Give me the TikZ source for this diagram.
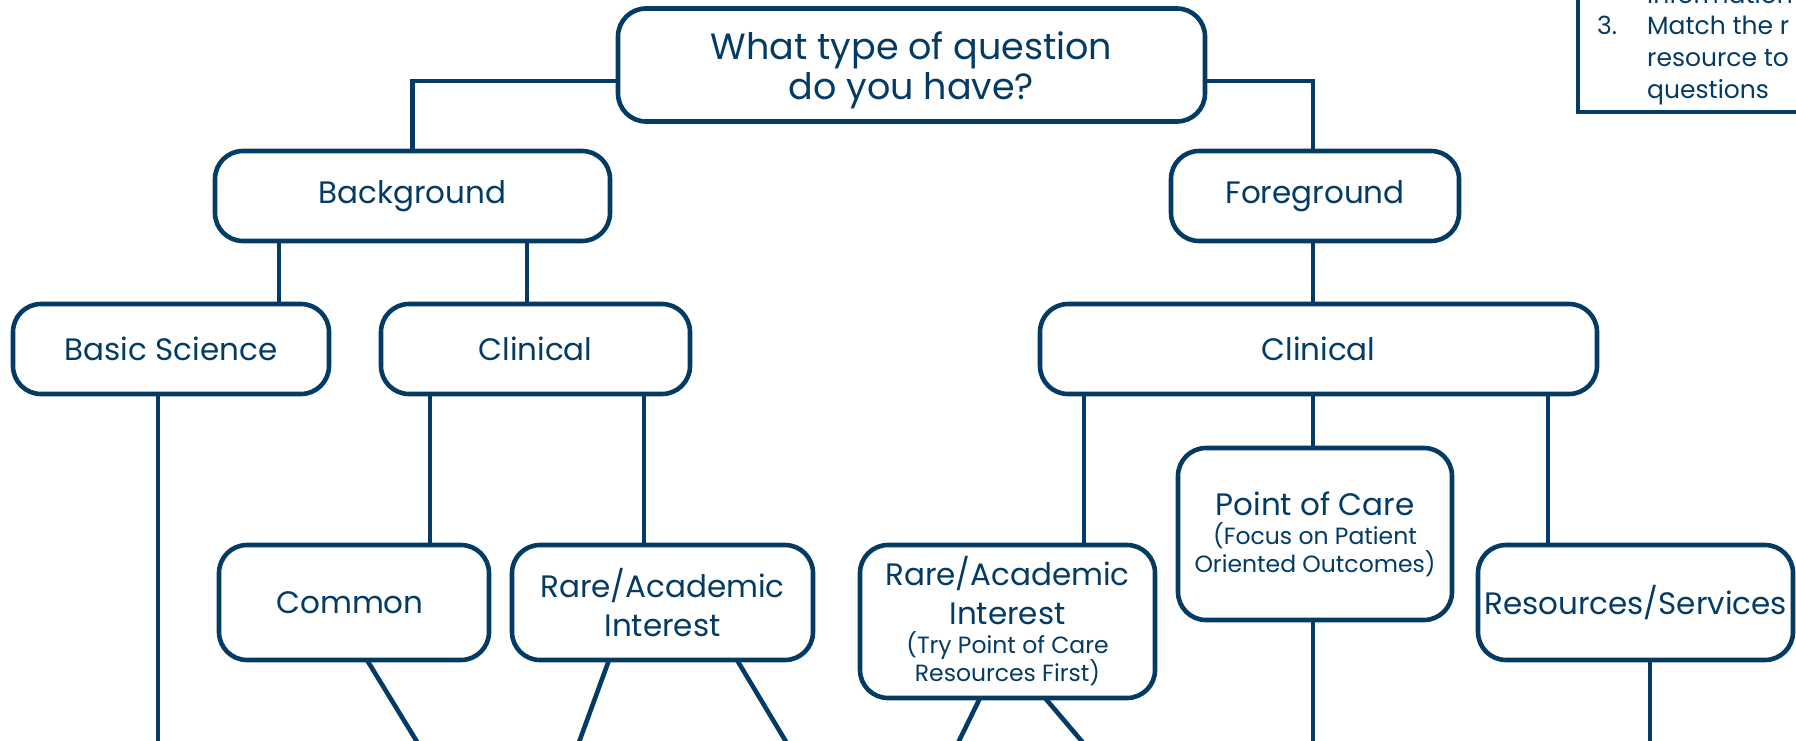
\documentclass[tikz,border=0pt]{standalone}
\usepackage{fontspec}
\setmainfont{Poppins}
\definecolor{navy}{RGB}{4,59,101}
\newcommand{\subf}{\fontsize{23.5}{27}\selectfont}
\begin{document}
\begin{tikzpicture}[x=1pt,y=-1pt,
  box/.style={draw=navy, line width=4.6pt, rounded corners=28pt, fill=white,
    text=navy, align=center, inner sep=0pt, outer sep=0pt,
    font=\fontsize{31}{39}\selectfont},
  conn/.style={draw=navy, line width=4.6pt},
  note/.style={text=navy, anchor=base west, inner sep=0pt,
    font=\fontsize{25}{30}\selectfont}]
\useasboundingbox (0,0) rectangle (1796,741);
\clip (0,0) rectangle (1796,741);
% boxes
\node[box, minimum width=587pt, minimum height=113pt, align=none,
  font=\fontsize{36.5}{40}\selectfont] (q) at (911.5,65)
  {\raisebox{-13pt}[0pt][0pt]{\begin{tabular}{@{}c@{}}What type of question\\do you have?\end{tabular}}};
\node[box, minimum width=395pt, minimum height=90pt] (bg) at (412.5,196) {Background};
\node[box, minimum width=288pt, minimum height=90pt] (fg) at (1315,196) {Foreground};
\node[box, minimum width=316pt, minimum height=90pt] (bs) at (171,349) {Basic Science};
\node[box, minimum width=309pt, minimum height=90pt] (cl) at (535.5,349) {Clinical};
\node[box, minimum width=557pt, minimum height=90pt] (cr) at (1318.5,349) {Clinical};
\node[box, minimum width=270pt, minimum height=115pt] (co) at (354,602.5) {Common\hspace*{8pt}};
\node[box, minimum width=301pt, minimum height=115pt] (ral) at (662.5,602.5) {Rare/Academic\\Interest};
\node[box, minimum width=295pt, minimum height=153pt] (rar) at (1007.5,621.5)
  {Rare/Academic\\Interest\\[-10pt]\subf (Try Point of Care\\[-11pt]\subf Resources First)};
\node[box, minimum width=274pt, minimum height=172pt] (poc) at (1315,534)
  {Point of Care\\[-10pt]\subf (Focus on Patient\\[-11pt]\subf Oriented Outcomes)};
\node[box, minimum width=315pt, minimum height=115pt] (rs) at (1635.5,602.5) {Resources/Services};
% helper coordinates
\coordinate (hy) at (0,81);
\coordinate (x279) at (279,0);
\coordinate (x527) at (527,0);
\coordinate (x1313) at (1313,0);
\coordinate (x430) at (430,0);
\coordinate (x644) at (644,0);
\coordinate (x1084) at (1084,0);
\coordinate (x1548) at (1548,0);
\coordinate (x158) at (158,0);
\coordinate (x1650) at (1650,0);
\coordinate (x367) at (367,0);
\coordinate (x609) at (609,0);
\coordinate (x737) at (737,0);
\coordinate (x980) at (980,0);
\coordinate (x1045) at (1045,0);
\coordinate (e1) at (158,745);
\coordinate (e2) at (419,745);
\coordinate (e3) at (578,745);
\coordinate (e4) at (788,745);
\coordinate (e5) at (957,745);
\coordinate (e6) at (1085,745);
\coordinate (e7) at (1313,745);
\coordinate (e8) at (1650,745);
% connectors
\draw[conn] (q.west |- hy) -| (bg.north);
\draw[conn] (q.east |- hy) -| (x1313 |- fg.north);
\draw[conn] (x279 |- bg.south) -- (x279 |- bs.north);
\draw[conn] (x527 |- bg.south) -- (x527 |- cl.north);
\draw[conn] (x1313 |- fg.south) -- (x1313 |- cr.north);
\draw[conn] (x430 |- cl.south) -- (x430 |- co.north);
\draw[conn] (x644 |- cl.south) -- (x644 |- ral.north);
\draw[conn] (x1084 |- cr.south) -- (x1084 |- rar.north);
\draw[conn] (x1313 |- cr.south) -- (x1313 |- poc.north);
\draw[conn] (x1548 |- cr.south) -- (x1548 |- rs.north);
\draw[conn] (x158 |- bs.south) -- (e1);
\draw[conn] (x367 |- co.south) -- (e2);
\draw[conn] (x609 |- ral.south) -- (e3);
\draw[conn] (x737 |- ral.south) -- (e4);
\draw[conn] (x980 |- rar.south) -- (e5);
\draw[conn] (x1045 |- rar.south) -- (e6);
\draw[conn] (x1313 |- poc.south) -- (e7);
\draw[conn] (x1650 |- rs.south) -- (e8);
% note box (top right, clipped)
\coordinate (t1) at (1578,-10);
\coordinate (t2) at (1578,112);
\coordinate (t3) at (1810,112);
\draw[conn] (t1) -- (t2) -- (t3);
\node[note] (n0) at (1647,4) {information};
\node[note] (n3) at (1597,35) {3.};
\node[note] (n4) at (1647,35) {Match the r};
\node[note] (n5) at (1647,67) {resource to};
\node[note] (n6) at (1647,99) {questions};
\end{tikzpicture}
\end{document}
